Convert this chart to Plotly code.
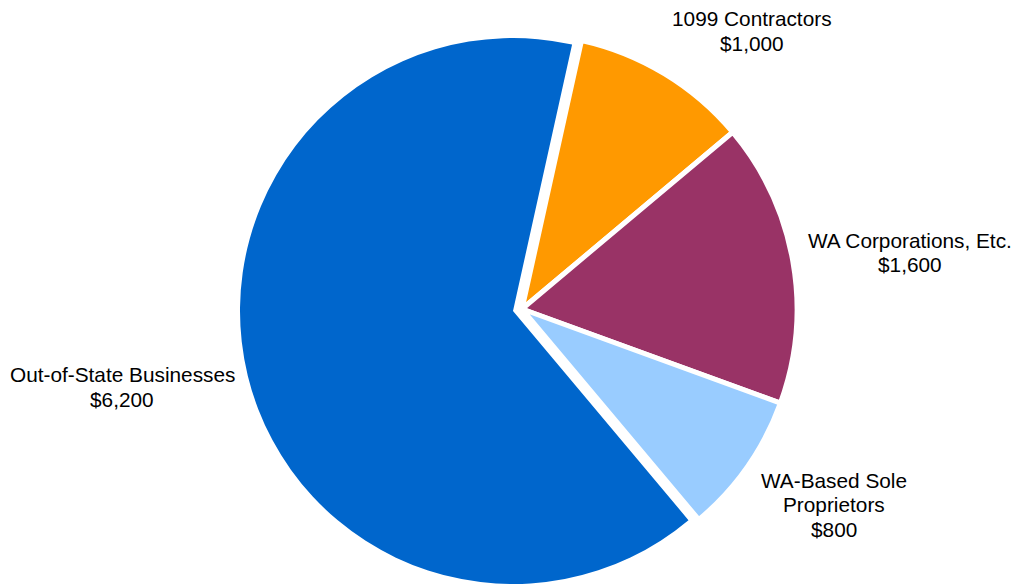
import plotly.graph_objects as go

# ---- data ----
categories = ["1099 Contractors", "WA Corporations, Etc.", "WA-Based Sole Proprietors", "Out-of-State Businesses"]
label_lines = [["1099 Contractors"], ["WA Corporations, Etc."], ["WA-Based Sole", "Proprietors"], ["Out-of-State Businesses"]]
values = [1000, 1600, 800, 6200]
colors = ["#FF9900", "#993366", "#99CCFF", "#0066CC"]

W, H = 1019, 584
FONT = dict(family="Liberation Sans, Arial, sans-serif", size=20.8, color="#000000")

def dom(cx, cy, r):
    return dict(x=[(cx - r) / W, (cx + r) / W], y=[1 - (cy + r) / H, 1 - (cy - r) / H])

TRANSP = "rgba(0,0,0,0)"
big_idx = values.index(max(values))

# trace 1: the large (exploded) slice only
c1 = [TRANSP] * len(values)
c1[big_idx] = colors[big_idx]
w1 = [0] * len(values)

# trace 2: the remaining slices, with white separators
c2 = list(colors)
c2[big_idx] = TRANSP
w2 = [5] * len(values)
w2[big_idx] = 0

common = dict(labels=categories, values=values, sort=False, direction="clockwise",
              rotation=12.5, textinfo="none", hoverinfo="label+value", showlegend=False)

fig = go.Figure()
fig.add_trace(go.Pie(**common, domain=dom(513, 311, 273),
                     marker=dict(colors=c1, line=dict(color="white", width=w1))))
fig.add_trace(go.Pie(**common, domain=dom(522, 309, 275),
                     marker=dict(colors=c2, line=dict(color="white", width=w2))))

# label positions (center x, first baseline y) in pixels
label_pos = [(751.5, 25.7), (910, 247.3), (833.5, 487.3), (122, 381.7)]
line_gap = 24.8

for lines, v, (cx, by) in zip(label_lines, values, label_pos):
    all_lines = lines + [f"${v:,}"]
    for i, t in enumerate(all_lines):
        base = by + i * line_gap
        mid = base - 0.347 * FONT["size"]
        fig.add_annotation(x=cx / W, y=1 - mid / H, xref="paper", yref="paper",
                           text=t, showarrow=False, xanchor="center", yanchor="middle",
                           font=FONT)

fig.update_layout(width=W, height=H, margin=dict(l=0, r=0, t=0, b=0),
                  paper_bgcolor="white", plot_bgcolor="white")

fig.write_html("out.html", config={"displayModeBar": False},
               post_script="document.body.style.margin='0';document.body.style.overflow='hidden';")
